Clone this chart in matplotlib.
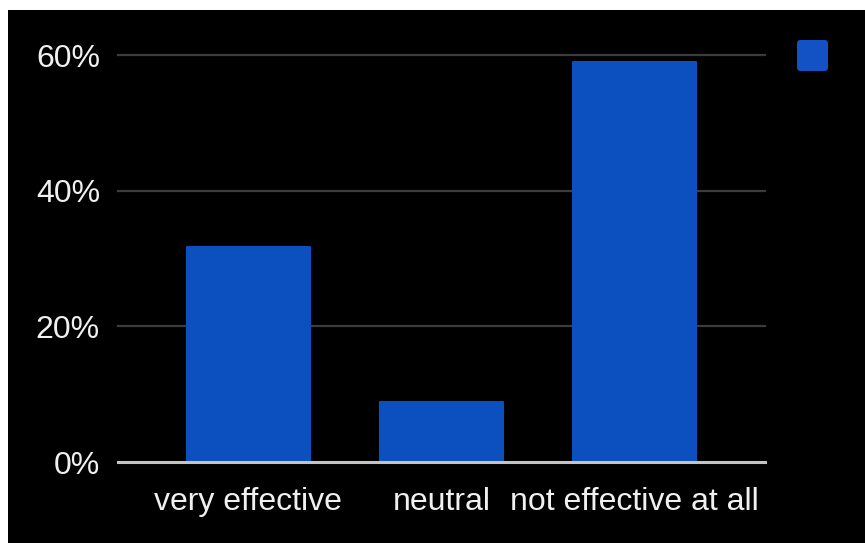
import matplotlib
matplotlib.use("Agg")
import matplotlib.pyplot as plt
from matplotlib.patches import FancyBboxPatch, Rectangle
from matplotlib.ticker import FuncFormatter

categories = ["very effective", "neutral", "not effective at all"]
shares = [31.7, 8.8, 58.9]
yticks = [0, 20, 40, 60]

W, H = 865, 543
DPI = 100
BAR_COLOR = "#0c4fbf"

fig = plt.figure(figsize=(W / DPI, H / DPI), dpi=DPI, facecolor="black")
plt.rcParams["font.family"] = ["Liberation Sans", "DejaVu Sans"]

# white frame strips on top and left
fig.patches.append(Rectangle((0, 1 - 10 / H), 1, 10 / H, transform=fig.transFigure,
                             facecolor="white", edgecolor="none", zorder=10))
fig.patches.append(Rectangle((0, 0), 8 / W, 1, transform=fig.transFigure,
                             facecolor="white", edgecolor="none", zorder=10))

left, right = 118 / W, 765 / W
bottom, top = (H - 462) / H, (H - 55) / H
ax = fig.add_axes([left, bottom, right - left, top - bottom])
ax.set_facecolor("black")

x = range(len(categories))
ax.bar(x, shares, width=0.635, color=BAR_COLOR, edgecolor=BAR_COLOR,
       linewidth=1.5, joinstyle="round", zorder=2)

ax.set_xlim(-0.675, len(categories) - 1 + 0.675)
ax.set_ylim(0, 60)
ax.set_yticks(yticks)
ax.yaxis.set_major_formatter(FuncFormatter(lambda v, _: f"{v:.0f}%"))
ax.set_xticks(list(x))
ax.set_xticklabels(categories)

for y in yticks[1:]:
    ax.axhline(y, color="#3c3c3c", linewidth=1.6, zorder=1, clip_on=False)
ax.axhline(0, color="#c4c4c4", linewidth=2.2, zorder=3, clip_on=False)

for s in ax.spines.values():
    s.set_visible(False)
ax.tick_params(axis="both", length=0, colors="#f0f0f0", labelsize=23)
ax.tick_params(axis="y", pad=13)
ax.tick_params(axis="x", pad=18)

# legend swatch
fig.patches.append(FancyBboxPatch((797 / W, 1 - 71 / H), 31 / W, 31 / H,
                                  boxstyle="round,pad=0,rounding_size=0.004",
                                  transform=fig.transFigure, facecolor="#1252c4",
                                  edgecolor="none", mutation_aspect=W / H))

fig.savefig("out.png", dpi=DPI, facecolor="black")
